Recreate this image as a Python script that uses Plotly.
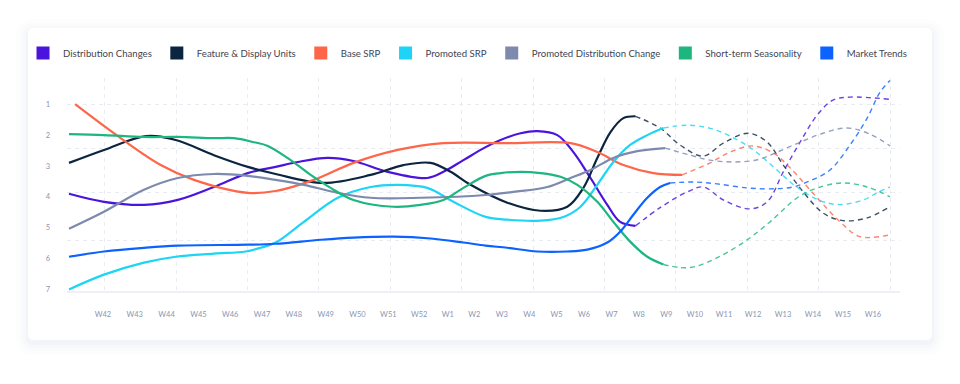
import plotly.graph_objects as go

# ---------------- data ----------------
WEEKS = ["W42", "W43", "W44", "W45", "W46", "W47", "W48", "W49", "W50", "W51", "W52",
         "W1", "W2", "W3", "W4", "W5", "W6", "W7", "W8", "W9", "W10", "W11", "W12",
         "W13", "W14", "W15", "W16"]
Y_TICKS = [1, 2, 3, 4, 5, 6, 7]

NAMES = ["Distribution Changes", "Feature & Display Units", "Base SRP", "Promoted SRP",
         "Promoted Distribution Change", "Short-term Seasonality", "Market Trends"]
COLORS = ["#4B14DC", "#0B2540", "#FF6548", "#1ED4F6", "#7D8AAD", "#1DB67F", "#0B62FF"]

# Distribution Changes (actual / forecast)
DIST_X = [0, 0.98, 2.10, 3.05, 4.06, 5.01, 5.79, 6.41, 7.25, 7.97, 8.93, 10.04, 10.49, 11.05,
          11.67, 12.09, 12.65, 13.12, 13.68, 14.13, 14.61, 15.08, 15.44, 15.87]
DIST_Y = [3.90, 4.16, 4.26, 4.10, 3.68, 3.23, 3.03, 2.87, 2.74, 2.84, 3.19, 3.39, 3.19, 2.81,
          2.39, 2.16, 1.94, 1.87, 2.00, 2.55, 3.39, 4.26, 4.81, 4.94]
DIST_FX = [15.87, 16.56, 17.32, 17.77, 18.33, 19.08, 19.56, 20.01, 20.48, 20.96, 21.40, 21.88, 23.0]
DIST_FY = [4.94, 4.35, 3.84, 3.68, 4.10, 4.39, 4.16, 3.19, 2.23, 1.35, 0.87, 0.77, 0.84]

# Feature & Display Units
FEAT_X = [0, 0.98, 2.15, 2.99, 4.06, 5.01, 5.79, 7.13, 8.45, 9.37, 10.13, 10.69, 11.25, 12.28,
          13.21, 13.96, 14.41, 14.80, 15.17, 15.53, 15.87]
FEAT_Y = [2.90, 2.48, 2.03, 2.16, 2.65, 3.03, 3.26, 3.55, 3.29, 2.97, 2.90, 3.19, 3.61, 4.19,
          4.45, 4.32, 3.71, 2.74, 1.90, 1.45, 1.39]
FEAT_FX = [15.87, 16.56, 17.12, 17.77, 18.33, 19.03, 19.56, 20.01, 20.57, 21.12, 21.68, 22.36, 23.0]
FEAT_FY = [1.39, 1.77, 2.32, 2.68, 2.26, 1.94, 2.23, 2.97, 3.84, 4.52, 4.77, 4.68, 4.32]

# Base SRP
BASE_X = [0.17, 1.40, 2.57, 3.50, 5.01, 5.79, 6.86, 7.97, 9.21, 10.49, 12.27, 14.05, 14.80,
          15.53, 16.37, 17.18]
BASE_Y = [1.00, 2.06, 2.97, 3.45, 3.87, 3.81, 3.45, 2.90, 2.48, 2.26, 2.26, 2.26, 2.55,
          2.97, 3.23, 3.29]
BASE_FX = [17.18, 17.96, 18.52, 19.14, 19.73, 20.20, 20.96, 21.60, 22.16, 23.0]
BASE_FY = [3.29, 2.90, 2.55, 2.35, 2.58, 3.06, 4.03, 4.81, 5.29, 5.23]

# Promoted SRP
PROMO_X = [0, 0.98, 2.10, 2.99, 4.06, 4.95, 5.37, 5.79, 6.58, 7.53, 8.45, 9.21, 10.04, 10.77,
           11.67, 12.28, 13.21, 13.85, 14.33, 14.80, 15.25, 15.72, 16.20, 16.65]
PROMO_Y = [7.00, 6.52, 6.13, 5.94, 5.84, 5.77, 5.65, 5.48, 4.81, 4.03, 3.68, 3.61, 3.71, 4.16,
           4.65, 4.74, 4.77, 4.65, 4.32, 3.61, 2.87, 2.32, 2.00, 1.77]
PROMO_FX = [16.65, 17.30, 17.96, 18.55, 19.20, 19.80, 20.35, 21.00, 21.55, 22.25, 22.64, 23.0]
PROMO_FY = [1.77, 1.68, 1.78, 2.05, 2.50, 3.10, 3.65, 4.10, 4.25, 4.10, 3.87, 3.68]

# Promoted Distribution Change
PDC_X = [0, 0.98, 2.10, 3.05, 4.06, 5.01, 5.79, 6.58, 7.53, 8.45, 9.85, 11.67, 12.45, 13.40,
         14.05, 14.61, 15.25, 15.92, 16.70]
PDC_Y = [5.03, 4.48, 3.77, 3.39, 3.26, 3.32, 3.45, 3.61, 3.87, 4.03, 4.03, 3.94, 3.84, 3.68,
         3.39, 3.13, 2.74, 2.52, 2.42]
PDC_FX = [16.70, 17.40, 17.96, 18.61, 19.28, 19.84, 20.48, 21.12, 21.80, 22.44, 23.0]
PDC_FY = [2.42, 2.65, 2.81, 2.87, 2.80, 2.55, 2.23, 1.94, 1.77, 1.97, 2.35]

# Short-term Seasonality
SEAS_X = [0, 0.98, 2.10, 3.05, 4.06, 4.62, 5.18, 5.57, 6.21, 6.77, 7.33, 7.97, 9.09, 9.85,
          10.49, 11.05, 11.67, 12.09, 12.65, 13.21, 13.77, 14.24, 14.80, 15.25, 15.72, 16.20, 16.65]
SEAS_Y = [1.97, 2.00, 2.06, 2.06, 2.10, 2.10, 2.23, 2.35, 2.81, 3.29, 3.71, 4.10, 4.32, 4.26,
          4.10, 3.71, 3.32, 3.23, 3.19, 3.23, 3.35, 3.61, 4.16, 4.81, 5.45, 5.94, 6.19]
SEAS_FX = [16.65, 17.12, 17.54, 18.16, 18.89, 19.64, 20.40, 20.96, 21.68, 22.36, 23.0]
SEAS_FY = [6.19, 6.29, 6.26, 5.97, 5.48, 4.81, 4.03, 3.71, 3.55, 3.68, 4.00]

# Market Trends
MKT_X = [0, 0.98, 2.10, 3.05, 5.01, 5.79, 7.05, 7.97, 9.09, 10.13, 11.05, 11.67, 12.28, 13.12,
         13.96, 14.52, 15.08, 15.44, 15.81, 16.20, 16.56, 16.84]
MKT_Y = [5.94, 5.77, 5.65, 5.58, 5.55, 5.52, 5.39, 5.32, 5.29, 5.35, 5.48, 5.58, 5.65, 5.77,
         5.77, 5.71, 5.48, 5.13, 4.58, 4.03, 3.68, 3.55]
MKT_FX = [16.84, 17.54, 18.16, 19.00, 19.73, 20.29, 20.76, 21.32, 21.88, 22.36, 22.72, 23.0]
MKT_FY = [3.55, 3.52, 3.58, 3.71, 3.74, 3.68, 3.48, 3.13, 2.32, 1.45, 0.61, 0.23]

SERIES = [
    (DIST_X, DIST_Y, DIST_FX, DIST_FY),
    (FEAT_X, FEAT_Y, FEAT_FX, FEAT_FY),
    (BASE_X, BASE_Y, BASE_FX, BASE_FY),
    (PROMO_X, PROMO_Y, PROMO_FX, PROMO_FY),
    (PDC_X, PDC_Y, PDC_FX, PDC_FY),
    (SEAS_X, SEAS_Y, SEAS_FX, SEAS_FY),
    (MKT_X, MKT_Y, MKT_FX, MKT_FY),
]

# ---------------- layout constants ----------------
# the page body adds an 8px margin, so the figure is 16px smaller than the window
W, H = 944, 368
ML, MR, MT, MB = 59, 52, 70, 85
X_RANGE = [-0.056, 23.28]
Y_RANGE = [7.05, 0.15]
H_GRID = [1, 2.42, 3.87, 5.42]
TICK_COLOR = "#8C95B2"
FONT = "Lato, 'Open Sans', sans-serif"

# week label positions: labels laid out with a constant gap between them
CHAR_W = {"W": 6.5, "1": 2.6}
def label_w(s):
    return sum(CHAR_W.get(c, 4.5) for c in s)
raw = [0.0]
for i in range(1, len(WEEKS)):
    raw.append(raw[-1] + 17 + (label_w(WEEKS[i - 1]) + label_w(WEEKS[i])) / 2)
FIRST_LABEL, LAST_LABEL = 0.95, 22.52
label_pos = [FIRST_LABEL + (r / raw[-1]) * (LAST_LABEL - FIRST_LABEL) for r in raw]

fig = go.Figure()

for (ax, ay, fx, fy), name, color in zip(SERIES, NAMES, COLORS):
    fig.add_trace(go.Scatter(
        x=fx, y=fy, mode="lines", showlegend=False, hoverinfo="skip", opacity=0.8,
        line=dict(color=color, width=1.4, dash="5px,4px", shape="spline", smoothing=1.0)))
for (ax, ay, fx, fy), name, color in zip(SERIES, NAMES, COLORS):
    fig.add_trace(go.Scatter(
        x=ax, y=ay, mode="lines", showlegend=False, name=name,
        line=dict(color=color, width=2.2, shape="spline", smoothing=1.0)))
# legend entries (square swatches)
for name, color in zip(NAMES, COLORS):
    fig.add_trace(go.Scatter(
        x=[None], y=[None], mode="markers", name=name,
        marker=dict(symbol="square", size=13, color=color)))

# card with soft shadow (figure pixel coordinates)
pw, ph = W - ML - MR, H - MT - MB
def px2paper(x, y):
    return (x - ML) / pw, (H - MB - y) / ph

def rrect(x0, y0, x1, y1, r):
    def P(x, y):
        a, b = px2paper(x, y)
        return f"{a:.5f},{b:.5f}"
    return (f"M {P(x0 + r, y0)} L {P(x1 - r, y0)} Q {P(x1, y0)} {P(x1, y0 + r)} "
            f"L {P(x1, y1 - r)} Q {P(x1, y1)} {P(x1 - r, y1)} "
            f"L {P(x0 + r, y1)} Q {P(x0, y1)} {P(x0, y1 - r)} "
            f"L {P(x0, y0 + r)} Q {P(x0, y0)} {P(x0 + r, y0)} Z")

CARD = (20, 20, 924, 332)
shapes = []
for k, a in [(12, 0.008), (8, 0.011), (5, 0.014), (2, 0.018)]:
    shapes.append(dict(type="path", xref="paper", yref="paper", layer="below",
                       path=rrect(CARD[0] - k, CARD[1] - k + 3, CARD[2] + k, CARD[3] + k + 3, 6 + k),
                       fillcolor=f"rgba(40,55,100,{a})", line=dict(width=0)))
shapes.append(dict(type="path", xref="paper", yref="paper", layer="below",
                   path=rrect(*CARD, 6), fillcolor="#ffffff", line=dict(width=0)))

fig.update_layout(
    width=W, height=H,
    margin=dict(l=ML, r=MR, t=MT, b=MB, autoexpand=False),
    paper_bgcolor="#ffffff", plot_bgcolor="rgba(0,0,0,0)",
    font=dict(family=FONT, color="#4A4F5C"),
    shapes=shapes,
    showlegend=True,
    legend=dict(orientation="h", x=-0.0528, xanchor="left", y=1.117, yanchor="middle",
                font=dict(size=9.6, color="#3F4452"), bgcolor="rgba(0,0,0,0)",
                itemclick=False),
    xaxis=dict(range=X_RANGE, showticklabels=False, ticks="", tick0=1, dtick=2,
               showgrid=True, gridcolor="#E9ECF3", griddash="4px,4px", gridwidth=1,
               zeroline=False, showline=True, linecolor="#EEF0F5", linewidth=1.5,
               automargin=False),
    xaxis2=dict(range=X_RANGE, overlaying="x", anchor="y", side="bottom",
                tickmode="array", tickvals=label_pos, ticktext=WEEKS,
                showgrid=False, zeroline=False, showline=False, ticks="",
                ticklabelstandoff=17, automargin=False,
                tickfont=dict(size=7.5, color=TICK_COLOR, family=FONT)),
    yaxis=dict(range=Y_RANGE, tickmode="array", tickvals=Y_TICKS,
               ticktext=[str(v) for v in Y_TICKS], showgrid=False, zeroline=False,
               showline=False, ticks="", ticklabelstandoff=16, automargin=False,
               tickfont=dict(size=7.5, color=TICK_COLOR, family=FONT)),
    yaxis2=dict(range=Y_RANGE, overlaying="y", anchor="x", tickmode="array",
                tickvals=H_GRID, showticklabels=False, ticks="",
                showgrid=True, gridcolor="#E9ECF3", griddash="4px,4px", gridwidth=1,
                zeroline=False, showline=False, automargin=False),
)
# invisible traces so the overlay axes render
fig.add_trace(go.Scatter(x=[None], y=[None], xaxis="x2", yaxis="y", showlegend=False, hoverinfo="skip"))
fig.add_trace(go.Scatter(x=[None], y=[None], xaxis="x", yaxis="y2", showlegend=False, hoverinfo="skip"))

fig.write_html("out.html")
